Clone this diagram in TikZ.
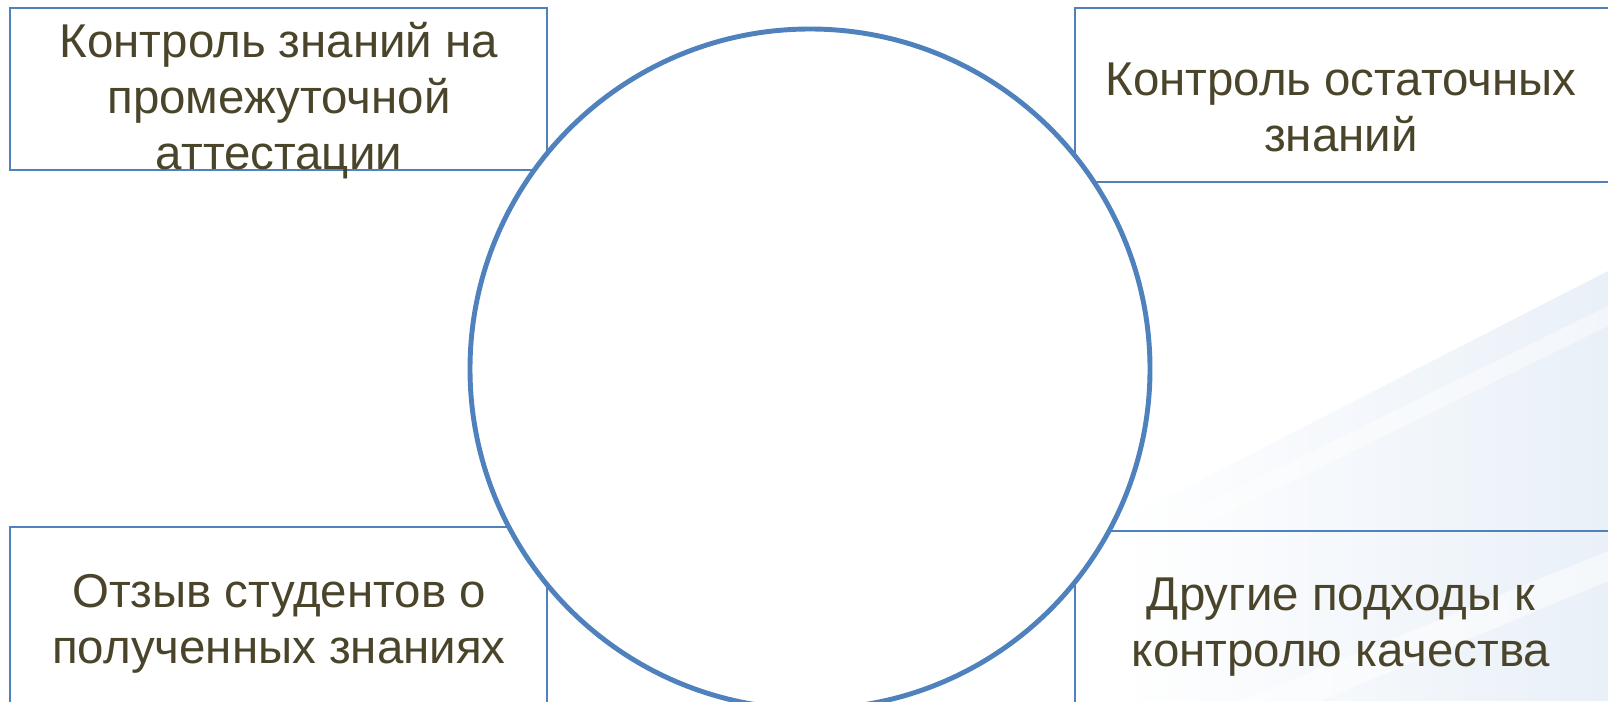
\documentclass[tikz,border=0pt]{standalone}
\usepackage{fontspec}
\setmainfont{Liberation Sans}
\usetikzlibrary{positioning,backgrounds}
\definecolor{ringblue}{HTML}{4F81BD}
\definecolor{olivetext}{HTML}{4A452A}
\definecolor{haze}{HTML}{E9F0F8}

\begin{document}
\begin{tikzpicture}[
    box/.style={draw=ringblue, line width=0.45pt, fill=white, inner sep=0pt},
    openbox/.style={box, fill=none},
    ring/.style={draw=ringblue, line width=1.4pt, fill=white, circle, inner sep=0pt,
                 minimum size=6.8cm},
    caption/.style={text=olivetext, align=center, inner sep=0pt,
                    font=\fontsize{13.5pt}{15.9pt}\selectfont},
]
    \useasboundingbox (0,0) rectangle (16.08,7.01);
    \clip (0,0) rectangle (16.08,7.01);

    % ============================================================
    %  BACKGROUND HAZE (bottom right corner)
    % ============================================================
    \begin{scope}[on background layer]
        \shade[left color=white, right color=haze]
            (11.2,0) -- (11.2,1.8) -- (16.08,4.3) -- (16.08,0) -- cycle;
        \fill[white, opacity=0.55] (12.4,0) -- (16.08,1.5) -- (16.08,1.2) -- (13.2,0) -- cycle;
        \fill[white, opacity=0.45] (11.6,1.75) -- (16.08,3.95) -- (16.08,3.75) -- (11.6,1.55) -- cycle;
    \end{scope}

    % ============================================================
    %  BOXES
    % ============================================================
    \node[box, minimum width=5.37cm, minimum height=1.62cm] (midbox) at (2.785,6.12) {};
    \node[box, minimum width=5.45cm, minimum height=1.74cm] (resbox) at (13.475,6.06) {};
    \node[box, minimum width=5.37cm, minimum height=1.84cm] (revbox) at (2.785,0.82) {};
    \node[openbox, minimum width=5.45cm, minimum height=1.80cm] (othbox) at (13.475,0.80) {};

    % ============================================================
    %  CENTRAL RING (covers the inner box corners)
    % ============================================================
    \node[ring] (hub) at (8.10,3.32) {};

    % ============================================================
    %  CAPTIONS
    % ============================================================
    \node[caption] (midtxt) at (2.79,6.00)
        {Контроль знаний на\\ промежуточной\\ аттестации};
    \node[caption] (restxt) at (13.41,5.94)
        {Контроль остаточных\\ знаний};
    \node[caption] (revtxt) at (2.79,0.775)
        {Отзыв студентов о\\ полученных знаниях};
    \node[caption] (othtxt) at (13.41,0.74)
        {Другие подходы к\\ контролю качества};

\end{tikzpicture}
\end{document}
